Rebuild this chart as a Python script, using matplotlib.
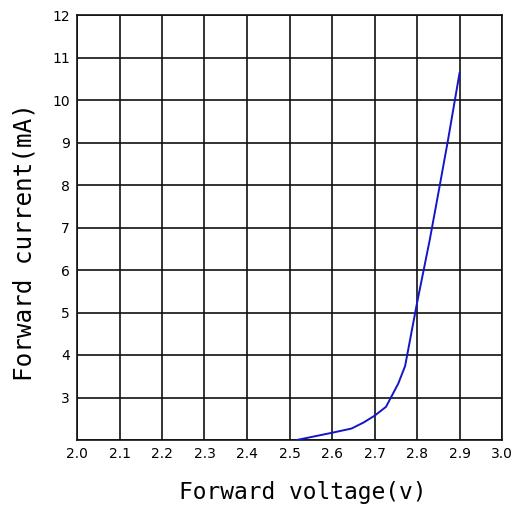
import matplotlib
matplotlib.use("Agg")
import matplotlib.pyplot as plt

# forward voltage (V) vs forward current (mA)
voltage = [2.517, 2.60, 2.646, 2.674, 2.70, 2.727, 2.756, 2.772, 2.80, 2.83, 2.853, 2.873, 2.90]
current = [2.0, 2.17, 2.27, 2.41, 2.57, 2.78, 3.33, 3.74, 5.22, 6.71, 7.96, 9.06, 10.63]

x_ticks = [2.0, 2.1, 2.2, 2.3, 2.4, 2.5, 2.6, 2.7, 2.8, 2.9, 3.0]
x_labels = ["2.0", "2.1", "2.2", "2.3", "2.4", "2.5", "2.6", "2.7", "2.8", "2.9", "3.0"]
y_ticks = [3, 4, 5, 6, 7, 8, 9, 10, 11, 12]
y_labels = ["3", "4", "5", "6", "7", "8", "9", "10", "11", "12"]

tick_font = ["Liberation Sans Narrow", "DejaVu Sans"]
label_font = ["DejaVu Sans Mono"]

fig = plt.figure(figsize=(5.23, 5.11), dpi=100)
ax = fig.add_axes([77 / 523, 1 - 440 / 511, 425 / 523, 425 / 511])

# grid drawn as plain lines at every tick
for x in x_ticks:
    ax.axvline(x, color="#111111", lw=1.2, zorder=1)
for y in [2] + y_ticks:
    ax.axhline(y, color="#111111", lw=1.2, zorder=1)

ax.plot(voltage, current, color="#1515c8", lw=1.4, zorder=3)

ax.set_xlim(2.0, 3.0)
ax.set_ylim(2.0, 12.0)
ax.set_xticks(x_ticks)
ax.set_xticklabels(x_labels, fontfamily=tick_font, fontsize=10)
ax.set_yticks(y_ticks)
ax.set_yticklabels(y_labels, fontfamily=tick_font, fontsize=10)
ax.tick_params(length=0, pad=5)
for s in ax.spines.values():
    s.set_linewidth(1.2)
    s.set_color("#111111")

fig.text(303 / 523, 1 - 492 / 511, "Forward voltage(v)", fontfamily=label_font,
         fontsize=16.5, ha="center", va="center")
fig.text(25 / 523, 1 - 242 / 511, "Forward current(mA)", fontfamily=label_font,
         fontsize=17.5, ha="center", va="center", rotation=90)

fig.savefig("out.png", dpi=100)
